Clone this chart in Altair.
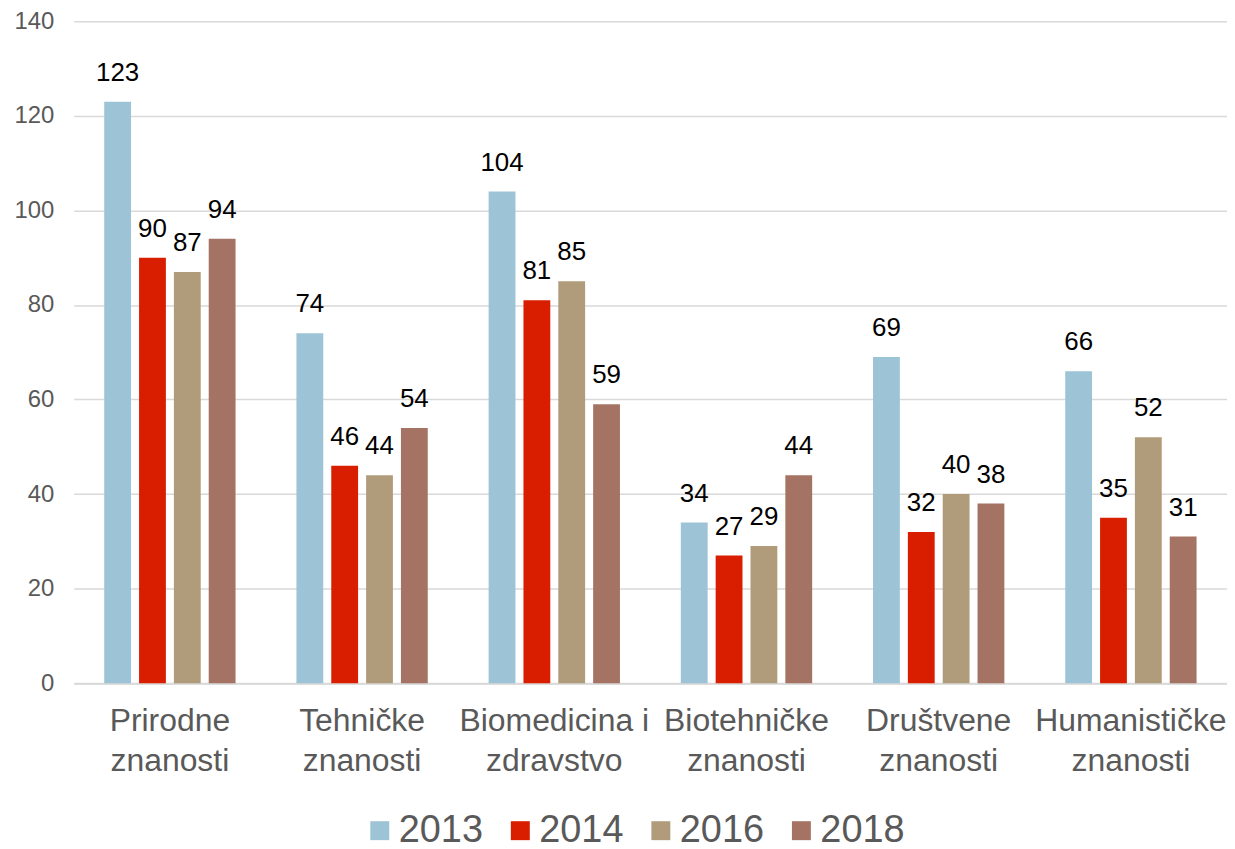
import json
import altair as alt
import pandas as pd

categories = ["Prirodne znanosti", "Tehničke znanosti", "Biomedicina i zdravstvo",
              "Biotehničke znanosti", "Društvene znanosti", "Humanističke znanosti"]
label_lines = [["Prirodne", "znanosti"], ["Tehničke", "znanosti"], ["Biomedicina i", "zdravstvo"],
               ["Biotehničke", "znanosti"], ["Društvene", "znanosti"], ["Humanističke", "znanosti"]]
years = ["2013", "2014", "2016", "2018"]
v2013 = [123, 74, 104, 34, 69, 66]
v2014 = [90, 46, 81, 27, 32, 35]
v2016 = [87, 44, 85, 29, 40, 52]
v2018 = [94, 54, 59, 44, 38, 31]
colors = ["#9DC3D6", "#D91E00", "#B09C7A", "#A57363"]

series = {"2013": v2013, "2014": v2014, "2016": v2016, "2018": v2018}
rows = []
for y in years:
    for c, v in zip(categories, series[y]):
        rows.append({"category": c, "year": y, "value": v})
df = pd.DataFrame(rows)

FONT = "Liberation Sans"
label_map = json.dumps(dict(zip(categories, label_lines)), ensure_ascii=False)

base = alt.Chart(df).encode(
    x=alt.X("category:N", sort=categories,
            scale=alt.Scale(paddingInner=0.275, paddingOuter=0.1375),
            axis=alt.Axis(title=None, labelAngle=0, labelExpr=label_map + "[datum.label]",
                          labelFontSize=32, labelColor="#595959", labelLineHeight=41,
                          labelPadding=22, labelBaseline="top", ticks=False, labelLimit=0,
                          domainColor="#d9d9d9", domainWidth=2, labelFont=FONT)),
    xOffset=alt.XOffset("year:N", sort=years,
                        scale=alt.Scale(paddingInner=0.23, paddingOuter=0.115)),
    y=alt.Y("value:Q", scale=alt.Scale(domain=[0, 140], nice=False),
            axis=alt.Axis(title=None, values=list(range(0, 141, 20)), domain=False, ticks=False,
                          labelFontSize=24, labelColor="#595959", labelPadding=20,
                          gridColor="#d9d9d9", gridWidth=1.5, labelFont=FONT)),
)

bars = base.mark_bar().encode(
    color=alt.Color("year:N", sort=years, scale=alt.Scale(domain=years, range=colors),
                    legend=alt.Legend(title=None, orient="none", direction="horizontal",
                                      legendX=288, legendY=793, symbolType="square",
                                      symbolSize=361, symbolStrokeWidth=0, labelFontSize=38,
                                      labelColor="#595959", labelFont=FONT, columnPadding=18,
                                      labelOffset=0, padding=0))
)

text = base.mark_text(baseline="bottom", dy=-16, fontSize=26, font=FONT, color="black").encode(
    text=alt.Text("value:Q")
)

chart = (bars + text).properties(
    width=1157, height=664,
    padding={"left": 5, "top": 0, "right": 0, "bottom": 0},
).configure_view(stroke=None)

chart.save("out.html", embed_options={"renderer": "svg", "actions": False})
